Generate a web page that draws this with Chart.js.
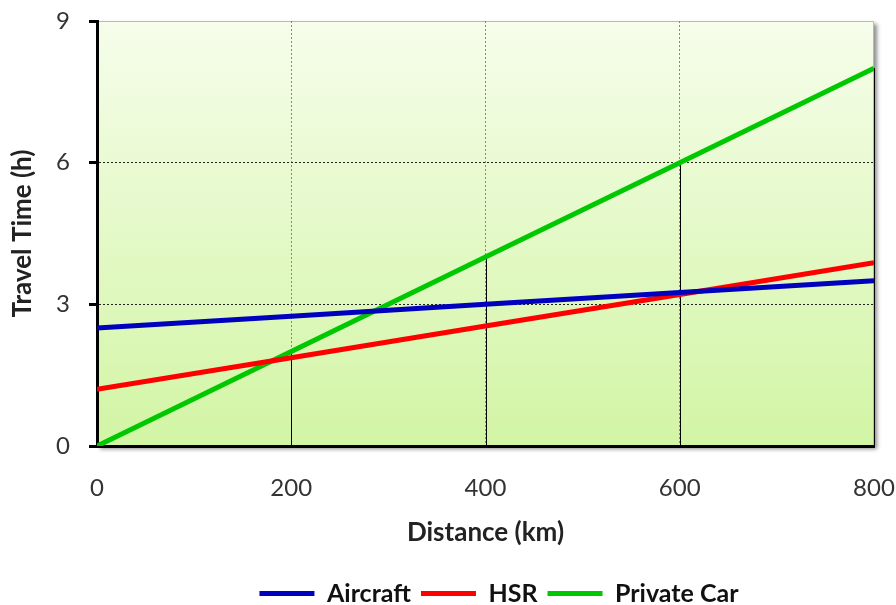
<!DOCTYPE html>
<html>
<head>
<meta charset="utf-8">
<script src="https://cdn.jsdelivr.net/npm/chart.js@4.4.0/dist/chart.umd.min.js"></script>
<style>
  html, body { margin: 0; padding: 0; background: #fff; }
  #wrap { width: 896px; height: 605px; }
</style>
</head>
<body>
<div id="wrap"><canvas id="chart" width="896" height="605"></canvas></div>
<script>
// distances in km
const distances = [0, 200, 400, 600, 800];
const aircraft = [2.5, 2.75, 3.0, 3.25, 3.5];
const hsr = [1.2, 1.87, 2.54, 3.21, 3.88];
const privateCar = [0, 2, 4, 6, 8];
const yTicks = [0, 3, 6, 9];

const font = "Lato, 'Open Sans', sans-serif";

function points(ys) {
    return distances.map((d, i) => ({ x: d, y: ys[i] }));
}

function serie(label, ys, color) {
    return {
        label: label,
        data: points(ys),
        borderColor: color,
        backgroundColor: color,
        pointBorderColor: color,
        pointBackgroundColor: color,
        pointBorderWidth: 5
    };
}

// fond dégradé + ombre de la zone de tracé
const plotBackground = {
    id: 'plotBackground',
    beforeDraw(chart) {
        const { ctx, chartArea: a } = chart;
        ctx.save();
        ctx.shadowColor = 'rgba(0,0,0,0.45)';
        ctx.shadowBlur = 4;
        ctx.shadowOffsetX = 3;
        ctx.shadowOffsetY = 3;
        const g = ctx.createLinearGradient(0, a.top, 0, a.bottom);
        g.addColorStop(0, '#f6fdeb');
        g.addColorStop(1, '#d2f5a4');
        ctx.fillStyle = g;
        ctx.fillRect(a.left, a.top, a.right - a.left, a.bottom - a.top);
        ctx.restore();
        ctx.save();
        ctx.strokeStyle = '#b3c58a';
        ctx.lineWidth = 1;
        ctx.beginPath();
        ctx.moveTo(a.left, a.top + 0.5);
        ctx.lineTo(a.right - 0.5, a.top + 0.5);
        ctx.lineTo(a.right - 0.5, a.bottom);
        ctx.stroke();
        ctx.restore();
    }
};

// lignes de projection sous la série voiture
const dropLines = {
    id: 'dropLines',
    beforeDatasetsDraw(chart) {
        const { ctx, scales: { x, y } } = chart;
        ctx.save();
        ctx.strokeStyle = '#000';
        ctx.lineWidth = 1;
        distances.forEach((d, i) => {
            const px = Math.round(x.getPixelForValue(d)) + 0.5;
            ctx.beginPath();
            ctx.moveTo(px, y.getPixelForValue(privateCar[i]));
            ctx.lineTo(px, y.getPixelForValue(0));
            ctx.stroke();
        });
        ctx.restore();
    }
};

// décaler la légende comme dans l'original
const moveLegend = {
    id: 'moveLegend',
    afterLayout(chart) {
        const l = chart.legend;
        l.left += 62; l.right += 62;
        l.top += 11; l.bottom += 11;
    }
};

new Chart(document.getElementById('chart'), {
    type: 'line',
    data: {
        datasets: [
            serie('Aircraft', aircraft, '#0000bf'),
            serie('HSR', hsr, '#ff0000'),
            serie('Private Car', privateCar, '#00c800')
        ]
    },
    options: {
        responsive: false,
        animation: false,
        layout: { padding: { top: 21, right: 22, left: 0, bottom: 0 } },
        elements: {
            line: { borderWidth: 5, tension: 0 },
            point: { radius: 0 }
        },
        plugins: {
            legend: {
                position: 'bottom',
                labels: {
                    usePointStyle: true,
                    pointStyle: 'line',
                    pointStyleWidth: 55,
                    color: '#111',
                    padding: 10,
                    font: { family: font, size: 25, weight: 'bold' }
                }
            },
            tooltip: { enabled: false }
        },
        scales: {
            x: {
                type: 'linear',
                min: 0,
                max: 800,
                afterFit(s) {
                    s.height = 114;
                    s.paddingLeft = 0; s.paddingRight = 0;
                },
                ticks: {
                    stepSize: 200,
                    padding: 28,
                    color: '#333',
                    font: { family: font, size: 24 }
                },
                grid: {
                    drawTicks: false,
                    color: c => (c.tick && (c.tick.value === 0 || c.tick.value === 800)) ? 'rgba(0,0,0,0)' : '#888',
                    lineWidth: 1
                },
                border: { display: true, color: '#000', width: 3, dash: [2, 2] },
                title: {
                    display: true,
                    text: 'Distance (km)',
                    color: '#222',
                    padding: { top: 0, bottom: 12 },
                    font: { family: font, size: 26, weight: 'bold' }
                }
            },
            y: {
                min: 0,
                max: 9,
                afterFit(s) {
                    s.width = 97;
                    s.paddingTop = 0; s.paddingBottom = 0;
                },
                afterBuildTicks(s) { s.ticks = yTicks.map(v => ({ value: v })); },
                ticks: {
                    padding: 19,
                    color: '#333',
                    font: { family: font, size: 24 }
                },
                grid: {
                    color: c => (c.tick && (c.tick.value === 0 || c.tick.value === 9)) ? 'rgba(0,0,0,0)' : '#222',
                    tickColor: '#000',
                    tickLength: 8,
                    tickWidth: 3,
                    lineWidth: 1
                },
                border: { display: true, color: '#000', width: 3, dash: [2, 2] },
                title: {
                    display: true,
                    text: 'Travel Time (h)',
                    color: '#222',
                    padding: { top: 7, bottom: 0 },
                    font: { family: font, size: 26, weight: 'bold' }
                }
            }
        }
    },
    plugins: [plotBackground, dropLines, moveLegend]
});
</script>
</body>
</html>
